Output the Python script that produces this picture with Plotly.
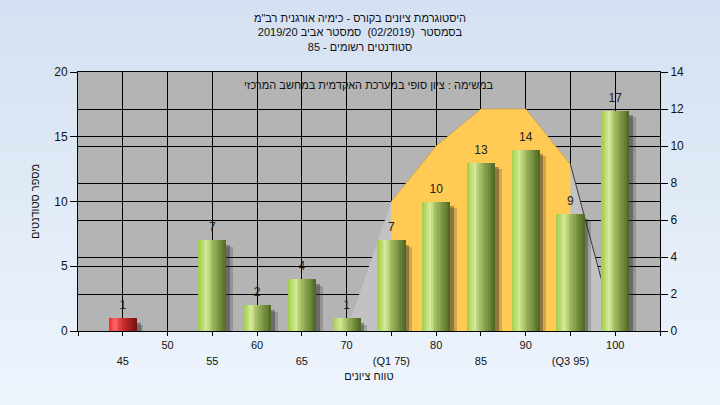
import plotly.graph_objects as go

# ---------------- data ----------------
scores = [45, 50, 55, 60, 65, 70, 75, 80, 85, 90, 95, 100]
counts = [1, 0, 7, 2, 4, 1, 7, 10, 13, 14, 9, 17]
fail_scores = [45]

row1_vals = [50, 60, 70, 80, 90, 100]
row1_text = ["50", "60", "70", "80", "90", "100"]
row2_vals = [45, 55, 65, 75, 85, 95]
row2_text = ["45", "55", "65", "(Q1 75)", "85", "(Q3 95)"]

curve_x = [70, 75, 80, 85, 90, 95, 100]
curve_y = [0, 7, 10, 12, 12, 9, 0]
q1, q3 = 75, 95

title_lines = [
    'היסטוגרמת ציונים בקורס - כימיה אורגנית רב"מ',
    'בסמסטר  (02/2019)  סמסטר אביב 2019/20',
    'סטודנטים רשומים - 85',
]
task_text = 'במשימה : ציון סופי במערכת האקדמית במחשב המרכזי'
x_title = 'טווח ציונים'
y_title = 'מספר סטודנטים'

# ---------------- styling helpers ----------------
FONT = 'Liberation Sans, Arial, sans-serif'


def lerp(c1, c2, t):
    return tuple(c1[i] + (c2[i] - c1[i]) * t for i in range(3))


def grad(stops, t):
    for (t0, c0), (t1, c1) in zip(stops[:-1], stops[1:]):
        if t0 <= t <= t1:
            return lerp(c0, c1, (t - t0) / (t1 - t0) if t1 > t0 else 0)
    return stops[-1][1]


green_stops = [(0.0, (160, 204, 70)), (0.28, (212, 234, 152)), (0.5, (160, 186, 96)),
               (1.0, (76, 102, 36))]
red_stops = [(0.0, (240, 40, 40)), (0.22, (255, 100, 100)), (0.5, (205, 45, 45)),
             (1.0, (115, 18, 18))]

bar_w = 3.125
n_strips = 16
strip_w = bar_w / n_strips

fig = go.Figure()

# area (right axis, primary y)
fig.add_trace(go.Scatter(x=curve_x, y=curve_y, mode='lines', fill='tozeroy',
                         fillcolor='#C2C2C2', line=dict(width=0),
                         xaxis='x', yaxis='y', hoverinfo='skip'))
iq = [i for i, v in enumerate(curve_x) if q1 <= v <= q3]
fig.add_trace(go.Scatter(x=[curve_x[i] for i in iq], y=[curve_y[i] for i in iq],
                         mode='lines', fill='tozeroy', fillcolor='#FFCB55',
                         line=dict(width=0.8, color='rgba(205,150,50,0.8)'),
                         xaxis='x', yaxis='y', hoverinfo='skip'))
ir = [i for i, v in enumerate(curve_x) if v >= q3]
fig.add_trace(go.Scatter(x=[curve_x[i] for i in ir], y=[curve_y[i] for i in ir],
                         mode='lines', line=dict(width=1, color='#3a3a3a'),
                         xaxis='x', yaxis='y', hoverinfo='skip'))

# bar shadows
sh1 = [max(c - 0.35, 0) for c in counts]
sh2 = [max(c - 0.5, 0) for c in counts]
fig.add_trace(go.Bar(x=scores, y=sh2, width=bar_w, offset=-bar_w / 2 + 0.75,
                     marker=dict(color='rgba(40,40,40,0.22)', line=dict(width=0)),
                     xaxis='x', yaxis='y2', hoverinfo='skip'))
fig.add_trace(go.Bar(x=scores, y=sh1, width=bar_w, offset=-bar_w / 2 + 0.42,
                     marker=dict(color='rgba(40,40,40,0.38)', line=dict(width=0)),
                     xaxis='x', yaxis='y2', hoverinfo='skip'))

# bars as vertical gradient strips
for k in range(n_strips):
    t = (k + 0.5) / n_strips
    cols = []
    for s in scores:
        st = red_stops if s in fail_scores else green_stops
        r, g, b = grad(st, t)
        cols.append('rgb(%d,%d,%d)' % (r, g, b))
    fig.add_trace(go.Bar(x=scores, y=counts, width=strip_w * 1.08,
                         offset=-bar_w / 2 + k * strip_w,
                         marker=dict(color=cols, line=dict(width=0)),
                         xaxis='x', yaxis='y2', hoverinfo='skip'))

# data labels
lab_x = [s for s, c in zip(scores, counts) if c > 0]
lab_y = [c for c in counts if c > 0]
fig.add_trace(go.Scatter(x=lab_x, y=lab_y, mode='markers+text', text=[str(v) for v in lab_y],
                         textposition='top center',
                         marker=dict(size=8, color='rgba(0,0,0,0)'),
                         textfont=dict(family=FONT, size=12, color='#222'),
                         xaxis='x2', yaxis='y2', cliponaxis=False, hoverinfo='skip'))

# ---------------- background ----------------
L, R, T, B = 78, 60, 72, 74
W, H = 720, 405
pw, ph = W - L - R, H - T - B
shapes = []
nb = 45
top_c, bot_c = (213, 225, 242), (238, 245, 253)
for i in range(nb):
    t = i / nb
    c = lerp(top_c, bot_c, t)
    y1 = 1 + T / ph - (H / ph) * t
    y0 = 1 + T / ph - (H / ph) * (i + 1) / nb
    shapes.append(dict(type='rect', xref='paper', yref='paper', layer='below',
                       x0=-L / pw, x1=1 + R / pw, y0=y0 - 0.002, y1=y1,
                       fillcolor='rgb(%d,%d,%d)' % c, line=dict(width=0)))
shapes.append(dict(type='rect', xref='paper', yref='paper', layer='below',
                   x0=0, x1=1, y0=0, y1=1, fillcolor='#B4B4B4', line=dict(width=0)))

ticks_all = list(range(40, 110, 5))
tick_text_main = [row1_text[row1_vals.index(v)] if v in row1_vals else '' for v in ticks_all]

axis_common = dict(showline=True, linecolor='black', linewidth=1, zeroline=False,
                   gridcolor='black', gridwidth=1, tickcolor='black', automargin=False)

fig.update_layout(
    width=W, height=H,
    margin=dict(l=L, r=R, t=T, b=B),
    paper_bgcolor='#E3ECF8', plot_bgcolor='#B4B4B4',
    barmode='overlay', bargap=0, showlegend=False, hovermode=False,
    font=dict(family=FONT, size=11, color='#111'),
    shapes=shapes,
    title=dict(text='<br>'.join(title_lines), x=0.5, xref='container', xanchor='center',
               y=1 - 22 / H, yref='container', yanchor='top',
               font=dict(family=FONT, size=11, color='#111')),
    xaxis=dict(range=[40, 105], tickmode='array', tickvals=ticks_all, ticktext=tick_text_main,
               ticks='outside', ticklen=4, showgrid=True, mirror=True,
               tickfont=dict(size=11, color='#111'), **axis_common),
    xaxis2=dict(range=[40, 105], overlaying='x', anchor='y', side='bottom', tickmode='array',
                tickvals=row2_vals, ticktext=row2_text, ticks='outside', ticklen=4,
                tickcolor='rgba(0,0,0,0)', ticklabelstandoff=16, showgrid=False, showline=False,
                zeroline=False, automargin=False, tickfont=dict(size=11, color='#111'),
                title=dict(text=x_title, standoff=6, font=dict(size=11, color='#111'))),
    yaxis=dict(range=[0, 14], side='right', tickmode='linear', tick0=0, dtick=2,
               ticks='outside', ticklen=7, showgrid=True, mirror=True,
               tickfont=dict(size=12, color='#111'), **axis_common),
    yaxis2=dict(range=[0, 20], overlaying='y', side='left', tickmode='linear', tick0=0, dtick=5,
                ticks='outside', ticklen=7, showgrid=True,
                tickfont=dict(size=12, color='#111'),
                title=dict(text=y_title, standoff=12, font=dict(size=11, color='#111')),
                **axis_common),
    annotations=[dict(text=task_text, xref='paper', yref='paper', x=0.5, y=(331 - 85) / ph,
                      xanchor='center', yanchor='middle', showarrow=False,
                      font=dict(family=FONT, size=11, color='#111'))],
)

fig.write_html(
    'out.html',
    config={'displayModeBar': False, 'staticPlot': True},
    post_script="document.documentElement.style.margin='0';"
                "document.body.style.margin='0';document.body.style.padding='0';"
                "document.body.style.overflow='hidden';",
)
